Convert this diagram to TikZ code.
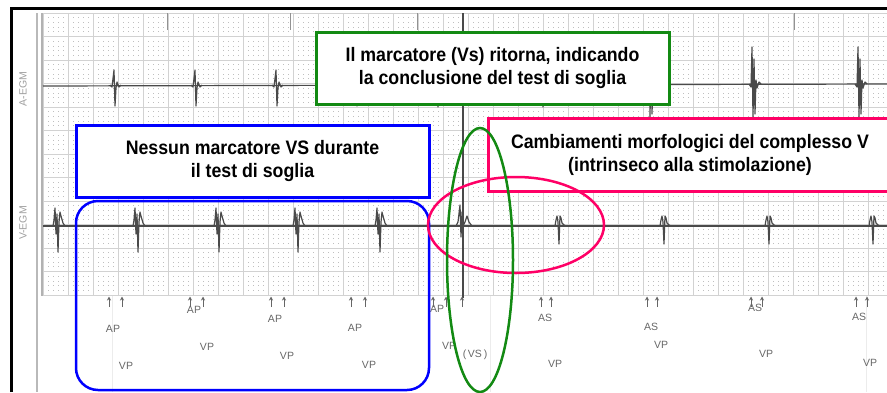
\documentclass[tikz,border=0pt]{standalone}
\usepackage{fontspec}
\setmainfont{Liberation Sans}
\newfontfamily\boxfont{Liberation Sans}[FakeStretch=0.91]
\usetikzlibrary{arrows.meta}
\definecolor{tracegray}{HTML}{4A4A4A}
\definecolor{gridgray}{HTML}{D2D2D2}
\definecolor{markgray}{HTML}{666666}
\definecolor{boxblue}{HTML}{0000FF}
\definecolor{boxgreen}{HTML}{138A13}
\definecolor{boxpink}{HTML}{FF0066}
\tikzset{
  major/.style={gridgray, line width=0.9pt},
  minordots/.style={gray!50, line width=0.8pt, dash pattern=on 0.8pt off 4.2pt},
  trace/.style={tracegray, line width=1.2pt, line join=round},
  evt/.style={markgray, font=\fontsize{10.5}{10}\selectfont, inner sep=0pt},
  tick/.style={markgray, line width=0.8pt, -{Stealth[length=4pt,width=4pt]}},
  note/.style={draw, line width=3pt, fill=white, align=center,
    font=\boxfont\bfseries\fontsize{19.5}{23}\selectfont, inner sep=0pt},
}
\begin{document}
\begin{tikzpicture}[x=1pt, y=-1pt]
\useasboundingbox (0,0) rectangle (887,392);
\clip (0,0) rectangle (887,392);
% paper
\foreach \y in {13,17.7,...,296} \draw[minordots] (43,\y) -- (887,\y);
\foreach \x in {43,68,...,887} \draw[major] (\x,13) -- (\x,296);
\foreach \y in {13,36.5,...,297} \draw[major] (43,\y) -- (887,\y);
\draw[gray!60, line width=1.2pt] (42,13) -- (42,296);
\draw[gray!55, line width=1.3pt] (37,13) -- (37,392);
\foreach \x in {112,490,866} \draw[gray!15, line width=0.8pt] (\x,296) -- (\x,392);
\foreach \x in {167,290,417,794} \draw[tracegray!60, line width=1pt] (\x,13) -- (\x,30);
\node[rotate=90, gray!75, font=\fontsize{10.5}{10}\selectfont] (aegm) at (23,89) {A-EGM};
\node[rotate=90, gray!75, font=\fontsize{10.5}{10}\selectfont] (vegm) at (23,223) {V-EGM};
% A-EGM
\draw[trace] (43,86) -- (887,84);
\foreach \x in {115,196,277,357}
  \draw[trace] (\x-5,85) -- (\x-3,87) -- (\x-1,70) -- (\x,106) -- (\x+1,88) -- (\x+2,82) -- (\x+4,87) -- (\x+6,85);
\foreach \x in {438,543}
  \draw[trace] (\x-2,85) -- (\x-1,73) -- (\x,107) -- (\x+1,82) -- (\x+3,85);
\foreach \x in {650,753,859}
  \draw[trace] (\x-4,84) -- (\x-2,87) -- (\x-1,47) -- (\x,117) -- (\x+1,59) -- (\x+2,114) -- (\x+3,80) -- (\x+4,88) -- (\x+6,82) -- (\x+8,84);
% V-EGM
\draw[trace] (43,226) -- (887,226);
\foreach \x in {58,138,219,298,380}
  \draw[trace] (\x-5,226) -- (\x-4,220) -- (\x-3,208) -- (\x-2,234) -- (\x-1,214) -- (\x,252) -- (\x+1,222) -- (\x+2,212) -- (\x+3,216) -- (\x+5,223) -- (\x+7,226);
\foreach \x in {559,664,769,873}
  \draw[trace] (\x-4,226) -- (\x-3,220) -- (\x-2,216) -- (\x-1,222) -- (\x,244) -- (\x+1,216) -- (\x+2,218) -- (\x+3,223) -- (\x+5,225) -- (\x+7,226);
\draw[trace] (463,13) -- (463,298);
\draw[trace] (456,226) -- (458,222) -- (460,205) -- (461,237) -- (462,212) -- (463,226) -- (465,222) -- (467,216) -- (469,222) -- (472,226);
% markers
\foreach \x in {109,122,190,203,271,284,351,365,433,446,462,541,551,647,657,751,762,856,867}
  \draw[tick] (\x,307) -- (\x,296.5);
\node[evt] (ap1) at (113,329) {AP};
\node[evt] (vp1) at (126,366) {VP};
\node[evt] (ap2) at (194,310) {AP};
\node[evt] (vp2) at (207,347) {VP};
\node[evt] (ap3) at (275,319) {AP};
\node[evt] (vp3) at (287,356) {VP};
\node[evt] (ap4) at (355,328) {AP};
\node[evt] (vp4) at (369,365) {VP};
\node[evt] (ap5) at (437,309) {AP};
\node[evt] (vp5) at (449,346) {VP};
\node[evt] (vs) at (475,355) {(\,VS\,)};
\node[evt] (as1) at (545,318) {AS};
\node[evt] (vp6) at (555,364) {VP};
\node[evt] (as2) at (651,327) {AS};
\node[evt] (vp7) at (661,345) {VP};
\node[evt] (as3) at (755,308) {AS};
\node[evt] (vp8) at (766,354) {VP};
\node[evt] (as4) at (859,317) {AS};
\node[evt] (vp9) at (870,363) {VP};
% frame
\draw[black, line width=3pt] (11,392) -- (11,8.5) -- (887,8.5);
% notes
\node[note, draw=boxblue, minimum width=353, minimum height=72] (nessun) at (252.5,161) {Nessun marcatore VS durante\\il test di soglia};
\node[note, draw=boxgreen, minimum width=353, minimum height=72] (ritorna) at (492.5,68) {Il marcatore (Vs) ritorna, indicando\\la conclusione del test di soglia};
\node[note, draw=boxpink, minimum width=404, minimum height=73] (cambi) at (690,154.5) {Cambiamenti morfologici del complesso V\\(intrinseco alla stimolazione)};
\draw[boxblue, line width=2.5pt, rounded corners=22pt] (76,201) rectangle (429,390);
\draw[boxpink, line width=2.5pt] (516,225) ellipse [x radius=88, y radius=48];
\draw[boxgreen, line width=2.5pt] (480,260) ellipse [x radius=33, y radius=132];
\end{tikzpicture}
\end{document}
